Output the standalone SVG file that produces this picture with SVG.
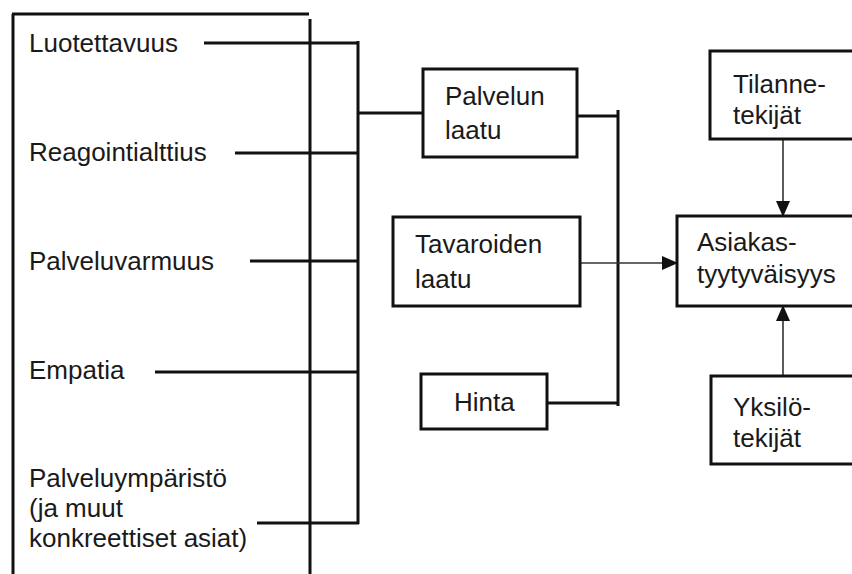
<svg xmlns="http://www.w3.org/2000/svg" width="852" height="574" viewBox="0 0 852 574">
<style>
  .t { font-family: "Liberation Sans", Arial, sans-serif; font-size: 26px; fill: #1a1a1a; }
  .box { fill: #ffffff; stroke: #111; stroke-width: 3; }
  .ln { stroke: #111; stroke-width: 3; fill: none; }
  .thin { stroke: #333; stroke-width: 1.6; fill: none; }
</style>
<defs>
  <marker id="ah" markerWidth="16" markerHeight="14" refX="15" refY="7" orient="auto" markerUnits="userSpaceOnUse">
    <path d="M0,0 L16,7 L0,14 Z" fill="#111"/>
  </marker>
</defs>
<rect width="852" height="574" fill="#ffffff"/>

<g id="frame">
  <path class="ln" d="M12,14 H309 M13,14 V574 M310,19 V574"/>
</g>

<g id="connectors">
  <path class="ln" d="M358,41 V524"/>
  <path class="ln" d="M204,43 H358 M235,153 H358 M250,261 H358 M155,372 H358 M257,523 H359"/>
  <path class="ln" d="M358,113 H423"/>
  <path class="ln" d="M618,110 V406"/>
  <path class="ln" d="M577,116 H618 M547,403 H618"/>
  <path class="thin" d="M580,263 H677" marker-end="url(#ah)"/>
  <path class="thin" d="M783,139 V216" marker-end="url(#ah)"/>
  <path class="thin" d="M783,376 V306" marker-end="url(#ah)"/>
</g>

<g id="luotettavuus"><text class="t" x="29" y="52">Luotettavuus</text></g>
<g id="reagointialttius"><text class="t" x="29" y="161">Reagointialttius</text></g>
<g id="palveluvarmuus"><text class="t" x="29" y="270">Palveluvarmuus</text></g>
<g id="empatia"><text class="t" x="29" y="379">Empatia</text></g>
<g id="palveluymparisto">
  <text class="t" x="29" y="487">Palveluympäristö</text>
  <text class="t" x="29" y="517">(ja muut</text>
  <text class="t" x="29" y="547">konkreettiset asiat)</text>
</g>

<g id="palvelun-laatu">
  <rect class="box" x="423" y="69" width="154" height="88"/>
  <text class="t" x="445" y="105">Palvelun</text>
  <text class="t" x="445" y="139">laatu</text>
</g>
<g id="tavaroiden-laatu">
  <rect class="box" x="393" y="217" width="187" height="89"/>
  <text class="t" x="415" y="253">Tavaroiden</text>
  <text class="t" x="415" y="288">laatu</text>
</g>
<g id="hinta">
  <rect class="box" x="421" y="374" width="126" height="55"/>
  <text class="t" x="454" y="411">Hinta</text>
</g>
<g id="tilannetekijat">
  <rect class="box" x="710" y="51" width="160" height="88"/>
  <text class="t" x="733" y="93">Tilanne-</text>
  <text class="t" x="733" y="124">tekijät</text>
</g>
<g id="asiakastyytyvaisyys">
  <rect class="box" x="677" y="216" width="190" height="90"/>
  <text class="t" x="697" y="251">Asiakas-</text>
  <text class="t" x="697" y="283">tyytyväisyys</text>
</g>
<g id="yksilotekijat">
  <rect class="box" x="711" y="376" width="160" height="88"/>
  <text class="t" x="733" y="416">Yksilö-</text>
  <text class="t" x="733" y="447">tekijät</text>
</g>
</svg>
